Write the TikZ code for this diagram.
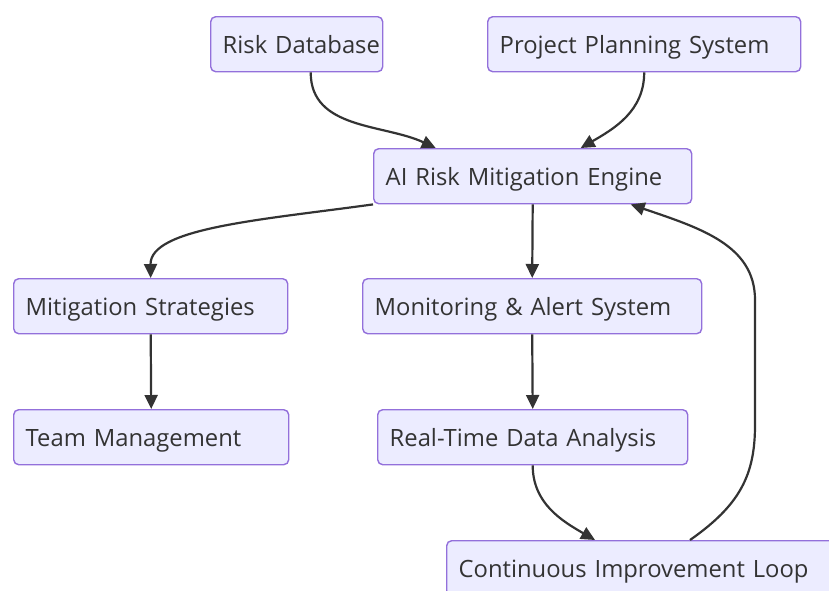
\documentclass[tikz,border=0pt]{standalone}
\usepackage{fontspec}
\setmainfont{Open Sans}
\usepackage{tikz}
\usetikzlibrary{arrows.meta}
\definecolor{boxfill}{HTML}{ECECFF}
\definecolor{boxline}{HTML}{9370DB}
\definecolor{inkgray}{HTML}{333333}
\tikzset{
	box node/.style={rectangle,draw=boxline,fill=boxfill,line width=1.4pt,rounded corners=5pt,
		anchor=north west,minimum height=55pt,inner xsep=12pt,inner ysep=0pt,
		text height=24pt,text depth=6pt,
		text width=#1,align=left,text=inkgray,font=\fontsize{23.8}{28}\selectfont},
	link/.style={draw=inkgray,line width=2.2pt}
}
\begin{document}
\begin{tikzpicture}[x=1pt,y=-1pt,->,>={Triangle[length=14pt,width=13pt]}]
				    \useasboundingbox (0,0) rectangle (829,590);
				    \clip (0,0) rectangle (829,590);
				    % top row
				    \node [box node=148pt] (rd) at (210,16) {Risk~Database};
				    \node [box node=289pt] (pps) at (487,16) {Project~Planning~System};
				    % engine
				    \node [box node=294pt] (ai) at (373,148) {AI~Risk~Mitigation~Engine};
				    % middle row
				    \node [box node=250pt] (ms) at (13,278) {Mitigation~Strategies};
				    \node [box node=315pt] (mas) at (362,278) {Monitoring~\&~Alert~System};
				    % lower row
				    \node [box node=251pt] (tm) at (13,409) {Team~Management};
				    \node [box node=286pt] (rt) at (377,409) {Real-Time~Data~Analysis};
				    \node [box node=372pt] (cil) at (446,540) {Continuous~Improvement~Loop};
				    % links
				    \draw [link] ([xshift=14pt]rd.south) to[out=-90,in=155] ([xshift=-97pt]ai.north);
				    \draw [link] (pps.south) to[out=-90,in=30] ([xshift=48pt]ai.north);
				    \draw [link] (ai.south west) .. controls (260,220) and (150,228) .. (ms.north);
				    \draw [link] (ai.south) -- (mas.north);
				    \draw [link] (ms.south) -- (tm.north);
				    \draw [link] (mas.south) -- (rt.north);
				    \draw [link] (rt.south) to[out=-90,in=150] ([xshift=149pt]cil.north west);
				    \draw [link] ([xshift=244pt]cil.north west) .. controls (740,505) and (755,475) .. (755,425)
				      -- (755,300) .. controls (755,245) and (700,228) .. ([xshift=98pt]ai.south);
				  \end{tikzpicture}
\end{document}
